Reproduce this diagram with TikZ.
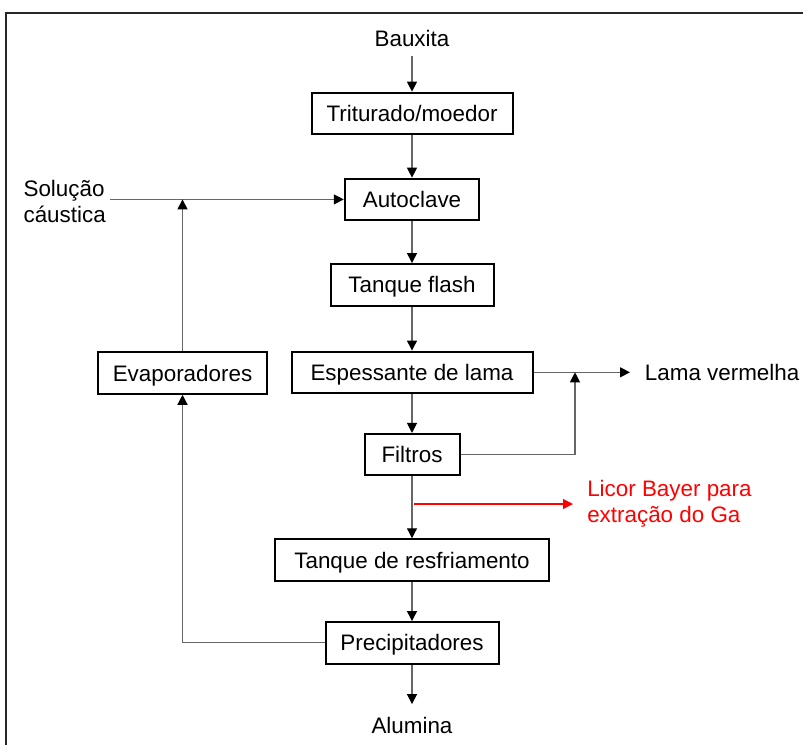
\documentclass[tikz,border=0pt]{standalone}
\usepackage{fontspec}
\setmainfont{Liberation Sans}
\usetikzlibrary{arrows.meta}
\begin{document}
\begin{tikzpicture}[x=0.75pt,y=-0.75pt,
  every node/.style={font=\fontsize{16.8}{19.5}\selectfont},
  stage/.style={draw=black, line width=1.5pt, inner sep=0pt, minimum height=41.5*0.75pt, text height=12pt, text depth=0pt},
  conn/.style={draw=black!60, line width=0.9pt},
  arr/.style={conn, -{Triangle[length=7.5pt,width=7.5pt,color=black]}},
  redarr/.style={draw=red, line width=0.9pt, -{Triangle[length=7.5pt,width=7.5pt]}}]
\useasboundingbox (0,0) rectangle (803,744);
\draw[black!85, line width=1.5pt] (6,13) rectangle (830,780);
% stages
\node[stage, minimum width=201*0.75pt] (tri) at (412,113.4) {Triturado/moedor};
\node[stage, minimum width=134.5*0.75pt] (auto) at (412,199.4) {Autoclave};
\node[stage, minimum width=163*0.75pt] (flash) at (412,284.8) {Tanque flash};
\node[stage, minimum width=241*0.75pt] (esp) at (412,372.3) {Espessante de lama};
\node[stage, minimum width=95*0.75pt] (filt) at (412,454.7) {Filtros};
\node[stage, minimum width=274*0.75pt] (tanq) at (412,560) {Tanque de resfriamento};
\node[stage, minimum width=173*0.75pt] (prec) at (412,642.8) {Precipitadores};
\node[stage, minimum width=168.5*0.75pt] (evap) at (182.5,373) {Evaporadores};
% terminals
\node[inner xsep=0pt, inner ysep=7.5pt, text height=12pt, text depth=0pt] (bx) at (412,38) {Bauxita};
\node[inner xsep=0pt, inner ysep=9.5pt, text height=12pt, text depth=0pt] (alu) at (412,725) {Alumina};
\node[anchor=east, align=left, inner xsep=3pt, inner ysep=0pt] (sol) at (110,201) {Solução\\cáustica};
\node[anchor=west, inner xsep=11pt, inner ysep=0pt, text height=12pt, text depth=0pt] (lama) at (630,372.3) {Lama vermelha};
\node[anchor=west, align=left, text=red, inner xsep=10.5pt, inner ysep=0pt] (licor) at (573,504) {Licor Bayer para\\extração do Ga};
% coordinates
\coordinate (j1) at (575,372.3);
\coordinate (r0) at (414,504);
% main flow
\draw[arr] (bx) -- (tri);
\draw[arr] (tri) -- (auto);
\draw[arr] (auto) -- (flash);
\draw[arr] (flash) -- (esp);
\draw[arr] (esp) -- (filt);
\draw[arr] (filt) -- (tanq);
\draw[arr] (tanq) -- (prec);
\draw[arr] (prec) -- (alu);
% side flows
\draw[arr] (sol.east |- auto.west) -- (auto.west);
\draw[arr] (evap.north) -- (evap.north |- auto.west);
\draw[arr] (prec.west) -| (evap.south);
\draw[arr] (esp.east) -- (lama.west);
\draw[arr] (filt.east) -| (j1);
\draw[redarr] (r0) -- (licor.west);
\end{tikzpicture}
\end{document}
